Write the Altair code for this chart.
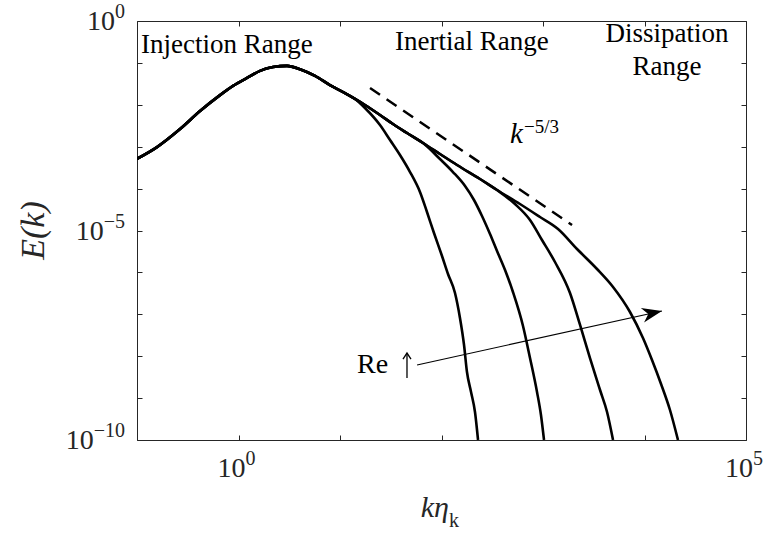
import math
import altair as alt
import pandas as pd

# ---------------- data (log10 values) ----------------
# shared low-wavenumber part of all spectra: log10(k*eta_k), log10(E)
common_lk = [-1.000, -0.803, -0.576, -0.379, -0.182, -0.054, 0.084, 0.212, 0.340,
             0.478, 0.606, 0.754, 0.901, 1.049, 1.148]
common_lE = [-3.29, -3.01, -2.58, -2.15, -1.77, -1.55, -1.36, -1.19, -1.10,
             -1.07, -1.15, -1.31, -1.53, -1.72, -1.86]

# lowest Re tail
re1_lk = [1.246, 1.394, 1.493, 1.591, 1.690, 1.788, 1.857, 1.926, 2.005, 2.064,
          2.133, 2.182, 2.222, 2.251, 2.291, 2.330, 2.360]
re1_lE = [-2.076, -2.482, -2.840, -3.198, -3.604, -4.081, -4.558, -5.060, -5.609, -6.038,
          -6.492, -7.088, -7.733, -8.377, -8.854, -9.332, -10.0]

# part shared by the three higher-Re spectra
upper_lk = [1.246, 1.394, 1.522, 1.660, 1.818]
upper_lE = [-2.005, -2.243, -2.458, -2.673, -2.912]

re2_lk = [1.985, 2.113, 2.232, 2.320, 2.399, 2.478, 2.547, 2.626, 2.704, 2.803,
          2.872, 2.941, 2.980, 3.010]
re2_lE = [-3.294, -3.604, -3.938, -4.272, -4.654, -5.084, -5.489, -5.943, -6.468, -7.279,
          -8.043, -8.854, -9.403, -10.0]

# part shared by the two highest-Re spectra
mid_lk = [1.985, 2.153, 2.379, 2.547]
mid_lE = [-3.174, -3.437, -3.771, -4.033]

re3_lk = [2.724, 2.872, 2.990, 3.118, 3.266, 3.365, 3.463, 3.562, 3.631, 3.690]
re3_lE = [-4.368, -4.749, -5.227, -5.752, -6.492, -7.255, -8.043, -8.807, -9.332, -10.0]

re4_lk = [2.773, 2.970, 3.148, 3.335, 3.532, 3.690, 3.857, 3.985, 4.074, 4.163, 4.251, 4.330]
re4_lE = [-4.368, -4.678, -4.964, -5.441, -5.919, -6.348, -6.945, -7.566, -8.091, -8.663,
          -9.284, -10.0]

# k^(-5/3) reference segment (log10 endpoints)
slope_lk = [1.296, 3.286]
slope_lE = [-1.60, -4.87]

# "Re increasing" arrow (log10 tail, tip)
arrow_lk = [1.759, 4.172]
arrow_lE = [-8.210, -6.921]

# small up-arrow after "Re" (log10 x, bottom, top)
uparrow_lk = 1.660
uparrow_lE = [-8.520, -7.924]

x_tick_vals = [10.0 ** p for p in range(-1, 6)]
y_tick_vals = [10.0 ** p for p in range(-10, 1)]
x_label_vals = [1.0, 1e5]
x_label_exps = ["0", "5"]
y_label_vals = [1.0, 1e-5, 1e-10]
y_label_exps = ["0", "\u22125", "\u221210"]

# ---------------- style ----------------
FONT = "'Liberation Serif', 'Times New Roman', Times, 'DejaVu Serif', serif"
AX = "#262626"
W, H = 609, 419
xs = alt.Scale(type="log", domain=[0.1, 1e5], nice=False)
ys = alt.Scale(type="log", domain=[1e-10, 1], nice=False)


def axis(orient, vals):
    return alt.Axis(orient=orient, values=vals, labels=False, ticks=True, tickSize=5,
                    tickColor=AX, tickWidth=1, domain=False, grid=False, offset=-5,
                    title=None)


rows = []


def add(name, lks, lEs):
    for i, (a, b) in enumerate(zip(lks, lEs)):
        rows.append(dict(curve=name, i=i, k=10.0 ** a, E=10.0 ** b))


add("Re1", common_lk + re1_lk, common_lE + re1_lE)
add("Re2", common_lk + upper_lk + re2_lk, common_lE + upper_lE + re2_lE)
add("Re3", common_lk + upper_lk + mid_lk + re3_lk, common_lE + upper_lE + mid_lE + re3_lE)
add("Re4", common_lk + upper_lk + mid_lk + re4_lk, common_lE + upper_lE + mid_lE + re4_lE)
df = pd.DataFrame(rows)

curves = alt.Chart(df).mark_line(color="black", strokeWidth=2.6, interpolate="monotone",
                                 clip=True).encode(
    x=alt.X("k:Q", scale=xs, axis=axis("bottom", x_tick_vals)),
    y=alt.Y("E:Q", scale=ys, axis=axis("left", y_tick_vals)),
    detail="curve:N",
    order="i:Q",
)

slope_df = pd.DataFrame({"k": [10 ** slope_lk[0]], "E": [10 ** slope_lE[0]],
                         "k2": [10 ** slope_lk[1]], "E2": [10 ** slope_lE[1]]})
dashed = alt.Chart(slope_df).mark_rule(color="black", strokeWidth=2.5,
                                       strokeDash=[12, 8]).encode(
    x=alt.X("k:Q", scale=xs, axis=axis("top", x_tick_vals)),
    y=alt.Y("E:Q", scale=ys, axis=axis("right", y_tick_vals)),
    x2="k2:Q", y2="E2:Q",
)

arrow_df = pd.DataFrame({"k": [10 ** arrow_lk[0]], "E": [10 ** arrow_lE[0]],
                         "k2": [10 ** arrow_lk[1]], "E2": [10 ** arrow_lE[1]]})
arrow_line = alt.Chart(arrow_df).mark_rule(color="black", strokeWidth=1.2).encode(
    x=alt.X("k:Q", scale=xs, axis=None), y=alt.Y("E:Q", scale=ys, axis=None),
    x2="k2:Q", y2="E2:Q",
)
px_dx = (arrow_lk[1] - arrow_lk[0]) * W / 6.0
px_dy = -(arrow_lE[1] - arrow_lE[0]) * H / 10.0
ang = math.degrees(math.atan2(px_dy, px_dx)) % 360
head = alt.Chart(arrow_df).mark_point(
    shape="M0,0L-2,-0.75L-1.4,0L-2,0.75Z", size=400, filled=True, color="black",
    opacity=1, strokeWidth=0, angle=ang).encode(
    x=alt.X("k2:Q", scale=xs, axis=None), y=alt.Y("E2:Q", scale=ys, axis=None),
)

# up-arrow glyph drawn as a thin shaft with an open barbed head
up_df = pd.DataFrame({"k": [10 ** uparrow_lk], "E": [10 ** uparrow_lE[0]],
                      "E2": [10 ** uparrow_lE[1]]})
up_shaft = alt.Chart(up_df).mark_rule(color="black", strokeWidth=1.3).encode(
    x=alt.X("k:Q", scale=xs, axis=None), y=alt.Y("E:Q", scale=ys, axis=None), y2="E2:Q",
)
up_head = alt.Chart(up_df).mark_point(
    shape="M-1,1.5L0,0L1,1.5", size=64, filled=False, color="black", opacity=1,
    strokeWidth=1.3).encode(
    x=alt.X("k:Q", scale=xs, axis=None), y=alt.Y("E2:Q", scale=ys, axis=None),
)


def txt(ks, Es, texts, size, dx=0, dy=0, align="left", baseline="alphabetic",
        style="normal", angle=0, color="black", font=FONT):
    d = pd.DataFrame({"k": ks, "E": Es, "t": texts})
    return alt.Chart(d).mark_text(font=font, fontSize=size, dx=dx, dy=dy, align=align,
                                  baseline=baseline, fontStyle=style, angle=angle,
                                  color=color).encode(
        x=alt.X("k:Q", scale=xs, axis=None), y=alt.Y("E:Q", scale=ys, axis=None),
        text="t:N")


texts = []
# tick labels: x
texts.append(txt(x_label_vals, [1e-10] * 2, ["10"] * 2, 28, dx=7, dy=37, align="right", color=AX))
texts.append(txt(x_label_vals, [1e-10] * 2, x_label_exps, 20, dx=7, dy=25, align="left", color=AX))
# tick labels: y
for v, e in zip(y_label_vals, y_label_exps):
    w = 20 * (0.5 * sum(c.isdigit() for c in e) + 0.564 * e.count("\u2212"))
    texts.append(txt([0.1], [v], [e], 20, dx=-12, dy=-3, align="right", color=AX))
    texts.append(txt([0.1], [v], ["10"], 28, dx=-12 - w, dy=9, align="right", color=AX))

# axis titles
texts.append(txt([10 ** 2.074], [1e-10], ["k\u03b7"], 30, dy=77, align="right", style="italic", color=AX))
texts.append(txt([10 ** 2.074], [1e-10], ["k"], 20, dy=87, align="left", color=AX))
texts.append(txt([0.1], [1e-5], ["E(k)"], 34, dy=-93, align="center", style="italic",
                 angle=270, color=AX))

# annotations
texts.append(txt([10 ** -0.961], [10 ** -0.764], ["Injection Range"], 27))
texts.append(txt([10 ** 2.300], [10 ** -0.692], ["Inertial Range"], 27, align="center"))
texts.append(txt([10 ** 4.222, 10 ** 4.222], [10 ** -0.501, 10 ** -1.290],
                 ["Dissipation", "Range"], 27, align="center"))
texts.append(txt([10 ** 2.675], [10 ** -2.912], ["k"], 29, style="italic"))
texts.append(txt([10 ** 2.813], [10 ** -2.673], ["\u22125/3"], 19))
texts.append(txt([10 ** 1.167], [10 ** -8.401], ["Re"], 28))

chart = alt.layer(curves, dashed, arrow_line, head, up_shaft, up_head, *texts).resolve_axis(
    x="independent", y="independent"
).properties(
    width=W, height=H,
    autosize=alt.AutoSizeParams(type="none"),
    padding={"left": 137, "top": 21, "right": 21, "bottom": 97},
).configure_view(stroke=AX, strokeWidth=1)

chart.save("out.html", embed_options={"renderer": "svg", "actions": False})
